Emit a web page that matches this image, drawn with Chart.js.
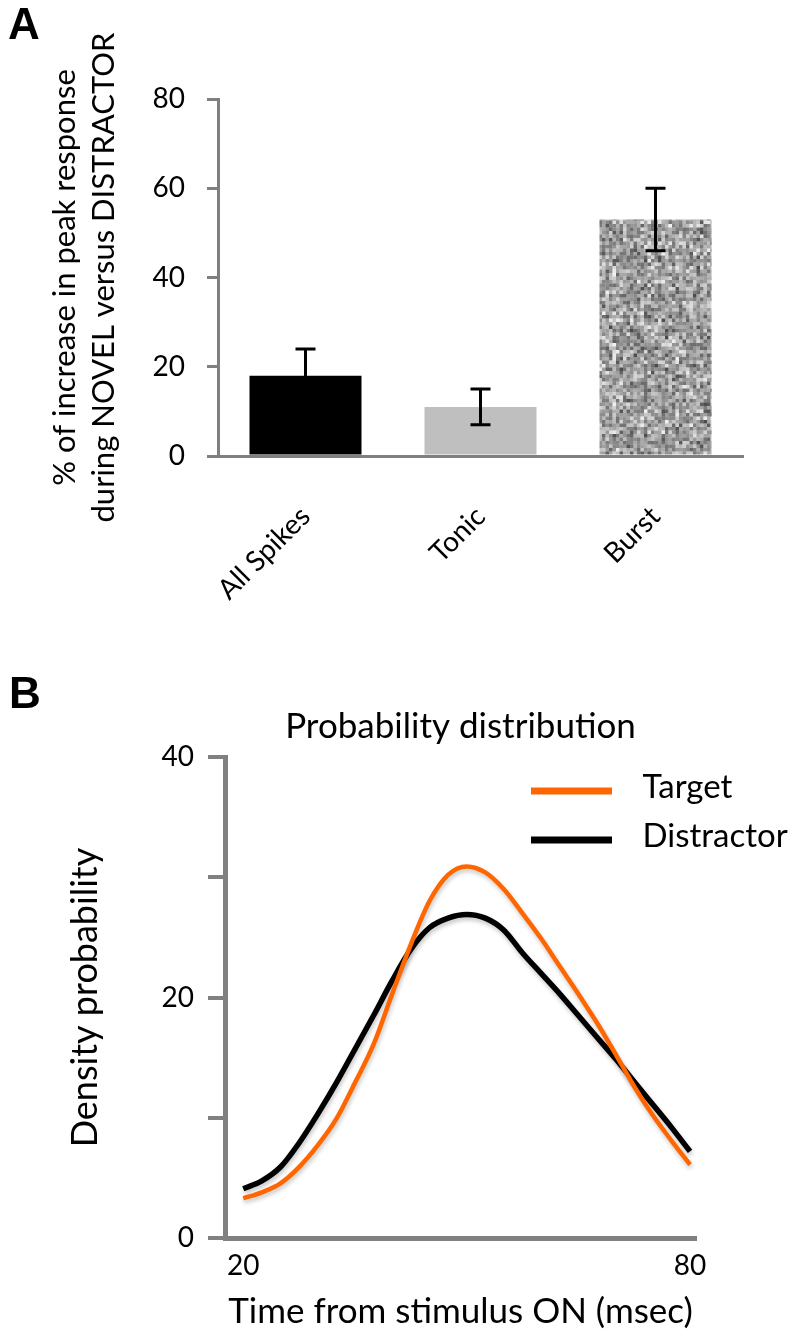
<!DOCTYPE html>
<html>
<head>
<meta charset="utf-8">
<script src="https://cdn.jsdelivr.net/npm/chart.js@4/dist/chart.umd.min.js"></script>
<style>
  html, body { margin: 0; padding: 0; background: #fff; }
  body { width: 797px; height: 1339px; position: relative; overflow: hidden; }
  #wrapA { position: absolute; left: 0; top: 0; z-index: 1; }
  #wrapB { position: absolute; left: 0; top: 650px; z-index: 1; }
  .panel-label { position: absolute; z-index: 2; font-family: "Liberation Sans", Arial, sans-serif; font-weight: bold; font-size: 44px; line-height: 44px; height: 44px; color: #000; }
</style>
</head>
<body>
<div id="wrapA"><canvas id="barChart" width="797" height="650"></canvas></div>
<div id="wrapB"><canvas id="lineChart" width="797" height="689"></canvas></div>
<div class="panel-label" style="left:8px;top:2px">A</div>
<div class="panel-label" style="left:9px;top:671px">B</div>
<script>
// panel A - peak response increase
const categories = ['All Spikes', 'Tonic', 'Burst'];
const increasePct = [18, 11, 53];
const increaseErr = [6, 4, 7];
const pctTicks = [0, 20, 40, 60, 80];

// panel B - density curves
const timeMs = [20, 22.5, 25, 27.5, 30, 32.5, 35, 37.5, 40, 42.5, 45, 47.5, 50,
                52.5, 55, 57.5, 60, 62.5, 65, 67.5, 70, 72.5, 75, 77.5, 80];
const targetDensity = [3.3, 3.8, 4.55, 5.9, 7.7, 9.9, 12.9, 16.1, 20.3, 24.4, 28.0, 30.2, 30.9,
                       30.4, 29.0, 27.0, 24.9, 22.6, 20.3, 17.9, 15.3, 12.6, 10.2, 8.1, 6.1];
const distractorDensity = [4.1, 4.75, 5.9, 7.9, 10.3, 12.9, 15.7, 18.5, 21.4, 24.0, 25.8, 26.6, 26.9,
                           26.6, 25.6, 23.7, 22.0, 20.3, 18.5, 16.7, 14.9, 13.0, 11.1, 9.2, 7.2];
const densityTicks = [0, 20, 40];
const timeTicks = [20, 80];

const axisGray = '#808080';
Chart.defaults.font.family = 'Lato, sans-serif';
Chart.defaults.color = '#000';

// speckled gray fill for the Burst bar
function speckle() {
  const tile = document.createElement('canvas');
  tile.width = 126; tile.height = 252;
  const g = tile.getContext('2d');
  const cell = 3.5;
  const hash = (i, j, k) => {
    let h = (i * 374761393 + j * 668265263 + k * 2246822519) | 0;
    h = Math.imul(h ^ (h >>> 13), 1274126177);
    h ^= h >>> 16;
    return (h >>> 0) / 4294967296;
  };
  for (let i = 0; i < 36; i++) {
    for (let j = 0; j < 72; j++) {
      const u = (hash(i, j, 1) + hash(i, j, 2)) / 2;
      const v = Math.round(70 + 175 * u);
      g.fillStyle = 'rgb(' + v + ',' + v + ',' + v + ')';
      g.fillRect(i * cell, j * cell, cell + 0.3, cell + 0.3);
    }
  }
  return document.getElementById('barChart').getContext('2d').createPattern(tile, 'repeat');
}

const errorBars = {
  id: 'errorBars',
  afterDatasetsDraw(chart) {
    const ctx = chart.ctx;
    const y = chart.scales.y;
    const meta = chart.getDatasetMeta(0);
    ctx.save();
    ctx.strokeStyle = '#000';
    ctx.lineWidth = 3;
    meta.data.forEach((bar, i) => {
      const top = y.getPixelForValue(increasePct[i] + increaseErr[i]);
      const bottom = y.getPixelForValue(increasePct[i] - increaseErr[i]);
      ctx.beginPath();
      ctx.moveTo(bar.x, top); ctx.lineTo(bar.x, bottom);
      ctx.moveTo(bar.x - 10, top); ctx.lineTo(bar.x + 10, top);
      ctx.moveTo(bar.x - 10, bottom); ctx.lineTo(bar.x + 10, bottom);
      ctx.stroke();
    });
    ctx.restore();
  }
};

new Chart(document.getElementById('barChart'), {
  type: 'bar',
  data: {
    labels: categories,
    datasets: [{
      data: increasePct,
      backgroundColor: ['#000000', '#bfbfbf', speckle()],
      borderWidth: 0,
      barPercentage: 0.64,
      categoryPercentage: 1
    }]
  },
  options: {
    responsive: false,
    animation: false,
    layout: { padding: { top: 99, right: 54, left: 0, bottom: 0 } },
    plugins: { legend: { display: false }, tooltip: { enabled: false } },
    scales: {
      x: {
        grid: { drawOnChartArea: false, drawTicks: false },
        border: { color: axisGray, width: 3 },
        ticks: { font: { size: 28 }, minRotation: 45, maxRotation: 45, autoSkip: false, padding: 44 },
        afterFit: (s) => { s.height = 194; }
      },
      y: {
        min: 0,
        max: 80,
        afterBuildTicks: (s) => { s.ticks = pctTicks.map(v => ({ value: v })); },
        ticks: { font: { size: 28 }, padding: 22 },
        grid: { drawOnChartArea: false, tickLength: 11, color: axisGray, lineWidth: 3 },
        border: { color: axisGray, width: 3 },
        title: {
          display: true,
          text: ['% of increase in peak response', 'during NOVEL versus DISTRACTOR'],
          font: { size: 31, lineHeight: 1.26 },
          padding: { top: 45, bottom: 0 }
        },
        afterFit: (s) => { s.width = 218; }
      }
    }
  },
  plugins: [errorBars]
});

// legend swatch: a thick line, left part of a wider box so the text sits further right
function legendLine(color) {
  const c = document.createElement('canvas');
  c.width = 95; c.height = 18;
  const g = c.getContext('2d');
  g.fillStyle = color;
  g.fillRect(0, 9, 81, 7);
  return c;
}

const legendPlacement = {
  id: 'legendPlacement',
  afterLayout(chart) {
    const lg = chart.legend;
    lg.left = 515;
    lg.top = 105;
    lg.right = chart.width;
    lg.bottom = chart.chartArea.bottom;
    lg.width = lg.right - lg.left;
    lg.height = lg.bottom - lg.top;
  }
};

const softShadow = {
  id: 'softShadow',
  beforeDatasetsDraw(chart) {
    const c = chart.ctx;
    c.save();
    c.shadowColor = 'rgba(0,0,0,0.22)';
    c.shadowBlur = 4;
    c.shadowOffsetX = 1;
    c.shadowOffsetY = 3;
  },
  afterDatasetsDraw(chart) { chart.ctx.restore(); }
};

new Chart(document.getElementById('lineChart'), {
  type: 'line',
  data: {
    datasets: [
      {
        label: 'Target',
        data: timeMs.map((t, i) => ({ x: t, y: targetDensity[i] })),
        borderColor: '#ff6600',
        backgroundColor: '#ff6600',
        borderWidth: 4.5,
        pointRadius: 0,
        pointStyle: legendLine('#ff6600'),
        cubicInterpolationMode: 'monotone',
        fill: false
      },
      {
        label: 'Distractor',
        data: timeMs.map((t, i) => ({ x: t, y: distractorDensity[i] })),
        borderColor: '#000000',
        backgroundColor: '#000000',
        borderWidth: 5.5,
        pointRadius: 0,
        pointStyle: legendLine('#000000'),
        cubicInterpolationMode: 'monotone',
        fill: false
      }
    ]
  },
  options: {
    responsive: false,
    animation: false,
    layout: { padding: { top: 0, right: 101, left: 0, bottom: 0 } },
    plugins: {
      tooltip: { enabled: false },
      title: {
        display: true,
        text: 'Probability distribution',
        font: { size: 35, weight: 'normal' },
        color: '#000',
        fullSize: false,
        padding: { top: 56, bottom: 9 }
      },
      legend: {
        position: 'chartArea',
        align: 'start',
        labels: {
          usePointStyle: true,
          pointStyleWidth: 95,
          padding: 16,
          font: { size: 33 },
          color: '#000'
        }
      }
    },
    scales: {
      x: {
        type: 'linear',
        min: 17.55,
        max: 80.8,
        afterBuildTicks: (s) => { s.ticks = timeTicks.map(v => ({ value: v })); },
        ticks: { font: { size: 28 }, padding: 11, maxRotation: 0 },
        grid: { drawOnChartArea: false, drawTicks: false },
        border: { color: axisGray, width: 5 },
        title: {
          display: true,
          text: 'Time from stimulus ON (msec)',
          font: { size: 35 },
          padding: { top: 0, bottom: 6 }
        },
        afterFit: (s) => { s.height = 101; }
      },
      y: {
        min: 0,
        max: 40,
        ticks: {
          stepSize: 10,
          padding: 14,
          font: { size: 28 },
          callback: (v) => densityTicks.includes(v) ? v : ''
        },
        grid: { drawOnChartArea: false, tickLength: 17, color: axisGray, lineWidth: 4 },
        border: { color: axisGray, width: 5 },
        title: {
          display: true,
          text: 'Density probability',
          font: { size: 36 },
          padding: { top: 64, bottom: 0 }
        },
        afterFit: (s) => { s.width = 225; }
      }
    }
  },
  plugins: [legendPlacement, softShadow]
});
</script>
</body>
</html>
